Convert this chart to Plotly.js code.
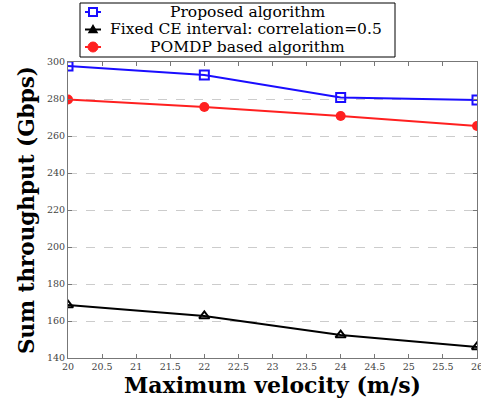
<!DOCTYPE html>
<html><head><meta charset="utf-8">
<script src="https://cdn.plot.ly/plotly-3.0.1.min.js"></script>
<style>html,body{margin:0;padding:0;background:#fff}#chart{width:481px;height:407px}</style>
</head><body><div id="chart"></div>
<script>
const velocity = [20, 22, 24, 26];
const proposed = [297.8, 293.0, 280.8, 279.5];
const fixedCE = [168.6, 162.7, 152.4, 146.0];
const pomdp = [279.7, 275.7, 270.8, 265.4];
const names = ["Proposed algorithm", "Fixed CE interval: correlation=0.5", "POMDP based algorithm"];
const colors = ['#1a0dff', '#000000', '#ff2020'];
const xTicks = [20,20.5,21,21.5,22,22.5,23,23.5,24,24.5,25,25.5,26];
const yTicks = [140,160,180,200,220,240,260,280,300];

const SERIF = '"DejaVu Serif", serif';
const M = {l: 68, r: 4, t: 62, b: 49};
const W = 481, H = 407;
const pw = W - M.l - M.r, ph = H - M.t - M.b;
const px = v => (v - M.l) / pw;
const py = v => (H - M.b - v) / ph;

const traces = [
  {x: velocity, y: proposed, name: names[0], mode: 'lines+markers',
   line: {color: colors[0], width: 2},
   marker: {symbol: 'square-open', size: 9, color: colors[0], line: {width: 2, color: colors[0]}}},
  {x: velocity, y: fixedCE, name: names[1], mode: 'lines+markers',
   line: {color: colors[1], width: 2},
   marker: {symbol: 'triangle-up-open', size: 9, color: colors[1], line: {width: 2, color: colors[1]}}},
  {x: velocity, y: pomdp, name: names[2], mode: 'lines+markers',
   line: {color: colors[2], width: 2},
   marker: {symbol: 'circle', size: 10, color: colors[2]}}
];

// custom legend (box, samples, text)
const rows = [12, 29.5, 47];
const shapes = [{type: 'rect', xref: 'paper', yref: 'paper', x0: px(80), x1: px(395), y0: py(57), y1: py(3),
  line: {color: '#000', width: 1}, fillcolor: '#fff', layer: 'above'}];
const annotations = [];
rows.forEach((r, i) => {
  shapes.push({type: 'line', xref: 'paper', yref: 'paper', x0: px(85), x1: px(101), y0: py(r), y1: py(r),
    line: {color: colors[i], width: 2}, layer: 'above'});
  const c = 93;
  if (i === 0) shapes.push({type: 'rect', xref: 'paper', yref: 'paper', x0: px(c-4), x1: px(c+4), y0: py(r+4), y1: py(r-4),
    line: {color: colors[i], width: 2}, fillcolor: '#fff', layer: 'above'});
  if (i === 1) shapes.push({type: 'path', xref: 'paper', yref: 'paper',
    path: `M${px(c-4)},${py(r+3)} L${px(c+4)},${py(r+3)} L${px(c)},${py(r-4)} Z`,
    line: {color: colors[i], width: 1.5}, fillcolor: colors[i], layer: 'above'});
  if (i === 2) shapes.push({type: 'circle', xref: 'paper', yref: 'paper', x0: px(c-5), x1: px(c+5), y0: py(r+5), y1: py(r-5),
    line: {color: colors[i], width: 1}, fillcolor: colors[i], layer: 'above'});
  annotations.push({xref: 'paper', yref: 'paper', x: px(i === 1 ? 246 : 247), y: py(r), xanchor: 'center', yanchor: 'middle',
    text: names[i], showarrow: false, font: {family: SERIF, size: 15.5, color: '#000'}});
});

const layout = {
  width: W, height: H, margin: M,
  paper_bgcolor: '#fff', plot_bgcolor: '#fff',
  font: {family: SERIF, color: '#000'},
  showlegend: false,
  shapes, annotations,
  xaxis: {range: [20, 26], tickvals: xTicks, ticktext: xTicks.map(String),
    ticks: 'inside', ticklen: 4, tickcolor: '#777', mirror: 'ticks', ticklabeloverflow: 'allow',
    showline: true, linecolor: '#777', linewidth: 1, showgrid: false, zeroline: false,
    tickfont: {size: 9.5, color: '#444'},
    title: {text: '<b>Maximum velocity (m/s)</b>', font: {size: 22}, standoff: 4}},
  yaxis: {range: [140, 300], tickvals: yTicks, ticktext: yTicks.map(String),
    ticks: 'inside', ticklen: 4, tickcolor: '#777', mirror: 'ticks', ticklabeloverflow: 'allow',
    showline: true, linecolor: '#777', linewidth: 1,
    showgrid: true, gridcolor: '#cccccc', griddash: 'dash', gridwidth: 1, zeroline: false,
    tickfont: {size: 9.5, color: '#444'},
    title: {text: '<b>Sum throughput (Gbps)</b>', font: {size: 21.5}, standoff: 6}}
};
Plotly.newPlot('chart', traces, layout, {displayModeBar: false});
</script></body></html>
